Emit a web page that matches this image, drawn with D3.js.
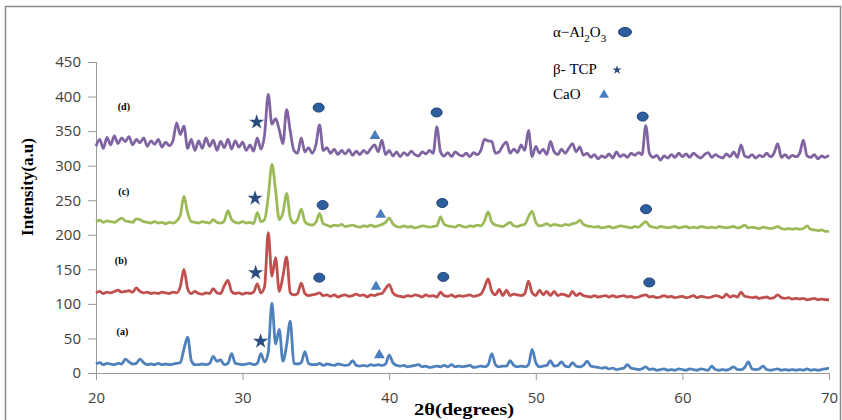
<!DOCTYPE html>
<html lang="en">
    <head>
        <meta charset="utf-8">
        <title>XRD patterns</title>
        <script src="https://d3js.org/d3.v7.min.js"></script>
        <style>
            body { margin: 0; background: white; }
            .axis path, .axis line { fill: none; stroke: #9a9a9a; }
            .axis text { font-family: "Open Sans", sans-serif; font-size: 15px; fill: #404040; }
            .title { font-family: "Liberation Serif", serif; font-weight: bold; font-size: 17px; fill: black; }
            .sample { font-family: "Liberation Serif", serif; font-weight: bold; font-size: 10px; fill: black; }
            .legend { font-family: "Liberation Serif", serif; font-size: 15px; fill: black; }
            .line { fill: none; stroke-width: 2.8; stroke-linejoin: round; }
        </style>
    </head>
    <body>
        <div id="chart"></div>
        <script type="text/javascript">
            // 2theta sampling grid (degrees)
            var twoTheta = d3.range(20, 70.001, 0.25);

            var seriesA = [
                13,15,12,14, 13,12,14,13, 20,16,13,14, 20,15,12,13, 12,14,12,13, 12,13,14,15,
                35,52,18,12, 12,13,12,14, 24,17,19,12, 14,28,14,13, 12,13,14,12, 14,28,16,30,
                101,42,63,17, 40,75,14,13, 15,31,14,12, 12,14,11,13, 12,11,13,12, 11,12,18,11,
                10,11,10,12, 11,12,11,13, 26,15,11,10, 11,9,10,11, 12,9,10,8, 9,10,9,11,
                9,12,9,10, 9,10,11,8, 9,10,9,12, 28,12,9,10, 10,18,11,9, 10,9,12,34,
                15,9,10,11, 18,10,11,16, 10,9,15,10, 9,11,17,10, 9,8,7,8, 6,7,5,6,
                7,12,7,6, 5,6,9,5, 6,4,5,6, 4,5,4,6, 5,4,6,5, 4,6,5,4,
                10,5,4,5, 4,6,9,5, 5,8,16,6, 5,6,10,5, 4,5,6,4, 5,4,5,4,
                5,4,6,4, 5,4,5,6, 7
            ];
            var seriesB = [
                116,118,115,117, 116,118,120,117, 118,119,117,123, 118,116,117,115, 116,115,117,116, 115,117,116,125,
                150,122,115,118, 115,114,116,115, 122,116,115,126, 134,118,115,116, 114,116,115,117, 129,116,125,203,
                140,167,118,140, 168,116,113,115, 130,115,112,113, 114,116,112,113, 111,113,110,112, 113,111,112,114,
                112,113,110,113, 112,114,115,122, 128,116,112,111, 110,112,111,113, 112,110,113,111, 112,110,117,112,
                111,113,110,112, 111,112,113,111, 112,114,124,136, 118,113,121,112, 120,112,114,113, 112,115,133,116,
                112,120,113,118, 112,118,112,114, 113,111,118,112, 115,112,111,110, 112,110,111,112, 110,112,110,111,
                112,110,111,109, 110,112,113,110, 111,109,110,112, 110,111,109,110, 111,109,110,112, 109,111,110,109,
                110,112,111,109, 114,110,112,110, 117,111,110,109, 110,108,109,110, 108,109,113,109, 108,109,107,108,
                107,108,106,107, 108,106,107,106, 106
            ];
            var seriesC = [
                219,221,218,220, 219,218,221,224, 220,219,218,223, 222,219,218,217, 219,217,218,216, 218,217,220,228,
                256,232,219,218, 217,219,218,217, 222,218,217,220, 235,222,218,217, 219,217,218,216, 232,219,222,255,
                302,264,222,232, 260,225,217,222, 237,219,215,214, 218,231,216,214, 212,214,213,215, 212,213,214,212,
                211,213,212,214, 212,213,215,218, 224,216,212,211, 213,211,212,210, 211,213,212,211, 212,213,226,215,
                213,212,211,214, 212,211,213,212, 214,213,220,233, 218,214,213,212, 215,218,213,212, 214,215,226,234,
                218,213,214,216, 213,215,214,213, 215,214,216,217, 221,215,213,212, 211,212,210,211, 212,210,211,213,
                212,211,210,212, 211,215,219,213, 211,210,212,211, 210,211,212,210, 211,212,210,211, 210,212,211,210,
                211,210,212,211, 210,211,212,210, 211,214,210,211, 210,209,211,210, 209,210,212,209, 208,209,208,209,
                208,209,213,208, 207,206,207,205, 205
            ];
            var seriesD = [
                328,338,325,341, 330,343,332,340, 335,342,330,338, 333,340,328,336, 331,338,327,334, 329,336,362,345,
                357,325,338,322, 336,325,340,328, 337,322,335,326, 338,324,336,327, 334,322,330,321, 340,324,345,403,
                360,368,352,332, 381,350,322,318, 340,320,326,318, 330,359,322,326, 318,324,316,322, 317,323,315,321,
                316,322,318,325, 330,320,337,316, 322,314,320,313, 319,315,321,316, 314,320,317,322, 318,356,320,314,
                319,313,320,316, 314,318,313,319, 316,322,338,336, 335,318,320,329, 334,318,324,319, 330,322,351,313,
                328,318,324,316, 335,320,316,324, 318,325,332,320, 327,315,318,312, 316,310,314,312, 317,311,320,313,
                316,312,318,315, 319,316,358,318, 312,315,308,314, 311,316,312,318, 313,317,312,318, 314,311,316,319,
                312,316,313,311, 317,313,320,312, 330,314,312,316, 311,315,313,318, 313,318,332,312, 316,311,315,313,
                318,337,314,312, 316,310,314,312, 315
            ];
            var sampleLabels = ["(a)", "(b)", "(c)", "(d)"];
            var sampleLabelPos = [[21.8, 55], [21.7, 158], [21.9, 258], [21.9, 381]];

            // phase markers [2theta, intensity]
            var starMarks = [[31.23, 46], [30.89, 145], [30.85, 253], [30.96, 363]];
            var circleMarks = [[35.23, 138], [43.69, 139], [57.74, 131], [35.46, 243], [43.62, 246], [57.52, 237],
                               [35.19, 384], [43.24, 377], [57.29, 371]];
            var triangleMarks = [[39.33, 26], [39.1, 125], [39.42, 229], [39.03, 343]];

            var xTicks = [20, 30, 40, 50, 60, 70];
            var yTicks = [0, 50, 100, 150, 200, 250, 300, 350, 400, 450];

            var w = 842;
            var h = 420;
            var plotLeft = 96, plotRight = 829, plotTop = 62, plotBottom = 373;

            var svg = d3.select("#chart").append("svg").attr("width", w).attr("height", h);

            // frame
            svg.append("rect").attr("x", 5.5).attr("y", 6.5).attr("width", 835).attr("height", 420)
                .attr("fill", "none").attr("stroke", "#8a8a8a").attr("stroke-width", 1.5);

            var xScale = d3.scaleLinear().domain([20, 70]).range([plotLeft, plotRight]);
            var yScale = d3.scaleLinear().domain([0, 450]).range([plotBottom, plotTop]);

            var xAxis = d3.axisBottom(xScale).tickValues(xTicks).tickSize(7).tickPadding(12);
            var yAxis = d3.axisLeft(yScale).tickValues(yTicks).tickSize(8).tickPadding(7);

            svg.append("g").attr("class", "axis").attr("transform", "translate(0," + plotBottom + ")").call(xAxis)
                .call(function(g) { g.select(".domain").attr("d", "M" + plotLeft + ",0.5H" + plotRight); });
            svg.append("g").attr("class", "axis").attr("transform", "translate(" + plotLeft + ",0)").call(yAxis)
                .call(function(g) { g.select(".domain").attr("d", "M0.5," + plotTop + "V" + plotBottom); });

            var colors = ["#4F81BD", "#C0504D", "#9BBB59", "#8064A2"];
            var allSeries = [seriesA, seriesB, seriesC, seriesD];

            var line = d3.line()
                .x(function(d, i) { return xScale(twoTheta[i]); })
                .y(function(d) { return yScale(d); })
                .curve(d3.curveMonotoneX);

            svg.selectAll("path.line").data(allSeries).enter().append("path")
                .attr("class", "line")
                .attr("stroke", function(d, i) { return colors[i]; })
                .attr("d", line);

            svg.selectAll("text.sample").data(sampleLabels).enter().append("text")
                .attr("class", "sample").attr("text-anchor", "middle")
                .attr("x", function(d, i) { return xScale(sampleLabelPos[i][0]); })
                .attr("y", function(d, i) { return yScale(sampleLabelPos[i][1]); })
                .text(function(d) { return d; });

            // markers
            var star = d3.symbol().type(d3.symbolStar).size(72);
            var tri = d3.symbol().type(d3.symbolTriangle).size(50);

            svg.selectAll("path.star").data(starMarks).enter().append("path")
                .attr("class", "star").attr("d", star).attr("fill", "#2B4C7E")
                .attr("transform", function(d) { return "translate(" + xScale(d[0]) + "," + yScale(d[1]) + ")"; });
            svg.selectAll("ellipse.al").data(circleMarks).enter().append("ellipse")
                .attr("class", "al").attr("rx", 5.5).attr("ry", 4.5)
                .attr("fill", "#2E5E9E").attr("stroke", "#1F4274").attr("stroke-width", 1)
                .attr("cx", function(d) { return xScale(d[0]); })
                .attr("cy", function(d) { return yScale(d[1]); });
            svg.selectAll("path.tri").data(triangleMarks).enter().append("path")
                .attr("class", "tri").attr("d", tri).attr("fill", "#4A7EC0")
                .attr("transform", function(d) { return "translate(" + xScale(d[0]) + "," + yScale(d[1]) + ")"; });

            // legend
            var lg = svg.append("g");
            var t1 = lg.append("text").attr("class", "legend").attr("x", 553).attr("y", 37);
            t1.append("tspan").text("\u03b1\u2212Al");
            t1.append("tspan").attr("dy", 5).attr("font-size", 11).text("2");
            t1.append("tspan").attr("dy", -5).text("O");
            t1.append("tspan").attr("dy", 5).attr("font-size", 11).text("3");
            lg.append("ellipse").attr("cx", 625).attr("cy", 32).attr("rx", 6.5).attr("ry", 4.5)
                .attr("fill", "#2E5E9E").attr("stroke", "#1F4274");
            lg.append("text").attr("class", "legend").attr("x", 553).attr("y", 74).text("\u03b2- TCP");
            lg.append("path").attr("d", d3.symbol().type(d3.symbolStar).size(26))
                .attr("fill", "#2B4C7E").attr("transform", "translate(617,70)");
            lg.append("text").attr("class", "legend").attr("x", 553).attr("y", 99).text("CaO");
            lg.append("path").attr("d", d3.symbol().type(d3.symbolTriangle).size(42))
                .attr("fill", "#4A7EC0").attr("transform", "translate(604,95)");

            // axis titles
            svg.append("text").attr("class", "title").attr("text-anchor", "middle")
                .attr("transform", "translate(33,187) rotate(-90)").text("Intensity(a.u)");
            svg.append("text").attr("class", "title").attr("text-anchor", "middle")
                .attr("x", 464).attr("y", 415).attr("textLength", 100).attr("lengthAdjust", "spacingAndGlyphs")
                .text("2\u03b8(degrees)");
        </script>
    </body>
</html>
